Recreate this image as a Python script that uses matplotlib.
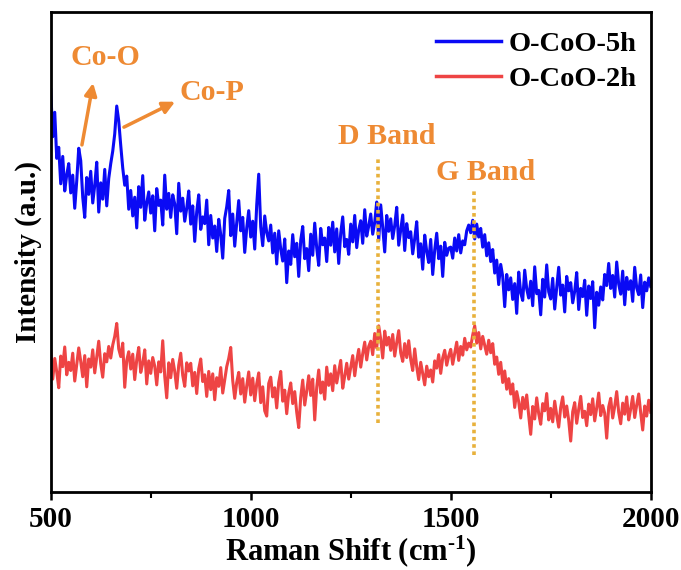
import matplotlib
matplotlib.use("Agg")
import matplotlib.pyplot as plt
from matplotlib.ticker import MultipleLocator
import numpy as np

plt.rcParams['font.family'] = ['Liberation Serif', 'DejaVu Serif']
plt.rcParams['font.weight'] = 'bold'
plt.rcParams['axes.labelweight'] = 'bold'
plt.rcParams['mathtext.fontset'] = 'custom'
plt.rcParams['mathtext.rm'] = 'Liberation Serif:bold'
plt.rcParams['mathtext.default'] = 'rm'

# Raman shift, one reading every 5 cm-1
shift = np.arange(500, 2001, 5)

# O-CoO-5h, intensity (a.u.)
co_5h = [
    83.8, 74.0, 79.1, 69.5, 71.8, 64.2, 69.9, 62.7, 66.1, 68.4,
    62.3, 66.0, 59.1, 64.8, 71.6, 69.0, 61.4, 57.2, 65.5, 62.0,
    66.8, 60.2, 63.9, 68.7, 58.3, 64.4, 61.0, 67.2, 59.6, 65.3,
    68.4, 71.0, 74.6, 80.4, 77.3, 72.2, 67.5, 63.9, 65.8, 58.9,
    62.8, 57.5, 61.4, 55.0, 63.6, 59.3, 65.9, 56.6, 60.2, 62.5,
    58.1, 61.7, 54.4, 63.2, 59.7, 60.8, 55.6, 66.0, 58.9, 62.2,
    57.2, 61.9, 60.0, 53.8, 64.3, 58.5, 61.2, 56.4, 59.1, 62.7,
    55.8, 59.6, 52.2, 58.4, 61.9, 54.7, 57.3, 55.9, 60.8, 51.5,
    57.6, 52.9, 55.4, 50.1, 56.8, 53.6, 48.7, 57.0, 59.4, 62.8,
    53.4, 57.9, 51.2, 56.1, 60.7, 54.4, 57.2, 49.9, 55.0, 58.6,
    53.1, 56.4, 50.6, 59.8, 66.2, 55.2, 51.3, 57.5, 54.0, 52.3,
    55.6, 49.8, 53.9, 47.5, 54.4, 50.6, 48.1, 52.7, 43.6, 50.2,
    47.4, 53.6, 49.0, 51.8, 44.9, 52.4, 55.3, 48.6, 50.7, 46.1,
    53.7, 49.3, 56.0, 50.8, 47.2, 54.9, 51.5, 52.9, 48.0, 55.1,
    51.4, 56.2, 50.0, 54.8, 47.6, 53.9, 57.3, 51.1, 52.6, 49.5,
    55.8, 52.1, 57.6, 50.9, 54.6, 56.5, 51.8, 58.8, 53.3, 55.4,
    57.9, 53.7, 56.2, 60.4, 52.4, 59.8, 55.1, 50.0, 57.6, 54.3,
    56.9, 52.8, 55.5, 59.3, 51.4, 54.6, 57.7, 50.3, 55.9, 53.0,
    54.2, 49.6, 52.8, 56.3, 48.9, 51.7, 46.4, 53.5, 50.1, 47.8,
    52.6, 45.3, 50.4, 53.9, 48.6, 51.2, 44.9, 52.0, 49.3, 50.8,
    51.0, 48.7, 52.9, 50.2, 53.6, 49.8, 52.3, 51.5, 54.4, 55.6,
    54.0, 56.6, 52.7, 55.8, 53.1, 54.9, 51.0, 53.6, 49.2, 51.9,
    48.0, 50.5, 45.6, 48.3, 43.2, 47.4, 44.9, 38.6, 45.3, 42.1,
    44.6, 40.1, 43.4, 37.2, 45.8, 41.5, 39.9, 46.2, 42.3, 40.4,
    43.9, 38.8, 46.9, 41.3, 42.0, 36.9, 44.3, 40.6, 47.3, 41.7,
    40.2, 44.5, 38.1, 42.6, 46.8, 41.0, 43.1, 37.5, 44.9, 41.9,
    43.6, 39.4, 41.8, 45.7, 38.0, 42.4, 40.7, 44.1, 36.8, 42.9,
    40.3, 43.8, 34.2, 41.6, 38.9, 42.7, 40.0, 45.3, 43.0, 47.6,
    42.4, 45.1, 40.6, 47.9, 43.3, 41.2, 46.0, 39.0, 44.7, 42.2,
    44.0, 39.7, 46.8, 42.5, 41.1, 45.2, 38.4, 43.7, 41.9, 44.6,
    42.8,
]

# O-CoO-2h
co_2h = [
    29.4, 23.5, 27.8, 25.0, 21.7, 28.3, 26.1, 30.2, 24.4, 27.0,
    25.3, 28.9, 23.1, 26.6, 30.0, 27.2, 24.0, 28.4, 21.9, 27.7,
    26.0, 29.6, 24.8, 28.1, 31.4, 26.7, 23.9, 28.8, 27.1, 30.3,
    27.9, 30.6, 32.4, 35.1, 29.8, 28.2, 31.0, 21.8, 27.4, 29.2,
    25.6, 28.7, 23.4, 27.5, 30.1, 24.9, 26.8, 29.6, 22.5, 27.3,
    24.7, 28.0, 26.2, 22.3, 27.1, 25.0, 31.5, 24.1, 19.6, 26.9,
    23.8, 27.6, 25.1, 21.6, 26.4, 28.9, 24.3, 22.0, 26.9, 25.2,
    26.8, 22.1, 24.9, 20.5, 25.6, 27.7, 23.0, 24.4, 19.9, 25.1,
    21.3, 24.6, 19.2, 23.8, 22.0, 25.9, 20.6, 23.4, 26.1, 27.8,
    30.1, 23.2, 19.5, 22.8, 24.9, 20.4, 23.6, 18.7, 22.1, 25.0,
    20.2, 23.7, 19.0, 22.5, 24.8, 18.6, 21.9, 16.9, 15.8, 22.6,
    23.9, 19.8, 21.7, 17.5, 22.8, 25.1, 18.9, 21.2, 16.3, 20.6,
    22.7, 18.4, 20.9, 16.6, 13.4, 19.7, 23.3, 18.1, 21.0, 24.2,
    20.1, 23.5, 15.0, 21.8, 25.4, 20.6, 22.9, 19.3, 26.0, 22.2,
    24.6, 21.1, 26.3, 22.7, 25.0, 27.4, 21.6, 24.1, 26.8, 23.5,
    25.9, 28.4, 24.2, 27.3, 29.7, 26.0, 28.8, 31.2, 27.5, 30.3,
    31.4, 28.6, 33.0, 30.0, 34.6, 31.8, 27.9, 33.5, 30.6, 32.2,
    29.5, 32.8, 28.3, 31.1, 33.6, 29.0, 27.2, 30.9, 28.0, 31.5,
    27.6, 25.3, 29.8, 26.1, 23.4, 27.0, 24.6, 22.3, 26.2, 24.0,
    25.4, 22.9, 27.3, 25.8, 28.6, 24.7, 27.9, 29.5, 26.4, 28.3,
    29.7, 26.6, 28.9, 31.2, 27.4, 30.3, 28.5, 32.0, 29.6, 31.0,
    30.2, 32.7, 34.6, 31.0, 33.2, 29.8, 32.4, 30.6, 28.7, 31.6,
    29.0, 30.9, 26.6, 28.1, 24.5, 27.0, 22.8, 25.2, 21.4, 23.6,
    20.4, 22.5, 17.6, 20.9, 18.8, 15.4, 19.7, 17.3, 20.2, 15.9,
    12.0, 17.8, 15.2, 19.6, 16.3, 14.1, 18.4, 16.9, 20.5, 15.0,
    17.4, 14.6, 18.9, 16.0, 13.5, 17.6, 19.8, 15.6, 17.9, 14.9,
    10.6, 16.7, 18.6, 14.3, 17.2, 19.9, 15.5, 16.8, 13.8, 18.3,
    16.1, 19.4, 14.8, 17.5, 20.6, 15.9, 18.0, 16.4, 11.2, 17.7,
    19.5, 15.4, 17.8, 20.9, 16.6, 14.2, 18.5, 16.2, 19.8, 15.0,
    17.3, 19.9, 15.5, 18.1, 20.4, 16.5, 12.9, 17.9, 15.8, 19.1,
    16.6,
]

d_band = 1318
g_band = 1557
orange = '#EE8A33'
gold = '#E8B13C'

fig = plt.figure(figsize=(6.81, 5.70), dpi=100)
ax = fig.add_axes([0.0745, 0.137, 0.881, 0.842])

ax.plot(shift, co_5h, color='#0A0AF5', lw=2.2, label='O-CoO-5h')
ax.plot(shift, co_2h, color='#EE4444', lw=2.2, label='O-CoO-2h')

ax.plot([d_band, d_band], [14.4, 69.6], color=gold, lw=2.6, ls=(0, (1, 1)), zorder=3)
ax.plot([g_band, g_band], [7.7, 62.9], color=gold, lw=2.6, ls=(0, (1, 1)), zorder=3)

lab = dict(color=orange, fontsize=21.5, fontweight='bold', ha='center', va='center')
ax.text(636, 90.6, 'Co-O', **lab)
ax.text(903, 83.3, 'Co-P', **lab)
ax.text(1341, 74.0, 'D Band', **lab)
ax.text(1586, 66.5, 'G Band', **lab)

arrow = dict(arrowstyle='-|>', color=orange, lw=2.5, mutation_scale=18, shrinkA=0, shrinkB=0)
ax.annotate('', xy=(606, 85.2), xytext=(578, 72.3), arrowprops=arrow)
ax.annotate('', xy=(811, 81.3), xytext=(683, 76.0), arrowprops=arrow)

ax.set_xlim(500, 2000)
ax.set_ylim(0, 100)
ax.xaxis.set_major_locator(MultipleLocator(500))
ax.xaxis.set_minor_locator(MultipleLocator(250))
ax.tick_params(axis='x', which='major', direction='out', length=6, width=1.8, labelsize=21, pad=4)
ax.tick_params(axis='x', which='minor', direction='out', length=4, width=1.5)
for t in ax.get_xticklabels():
    t.set_fontweight('bold')
ax.set_yticks([])
for s in ax.spines.values():
    s.set_linewidth(2)

ax.set_xlabel(r'Raman Shift (cm$^{\text{-1}}$)', fontsize=22, fontweight='bold', labelpad=0)
ax.set_ylabel('Intensity (a.u.)', fontsize=21, fontweight='bold', labelpad=6)

leg = ax.legend(loc='upper right', bbox_to_anchor=(1.0, 0.989), frameon=False,
                fontsize=20.5, handlelength=2.3, handletextpad=0.25,
                labelspacing=0.3, borderaxespad=0.1)
for t in leg.get_texts():
    t.set_fontweight('bold')
for l in leg.get_lines():
    l.set_linewidth(2.5)

fig.savefig('out.png', dpi=100)
